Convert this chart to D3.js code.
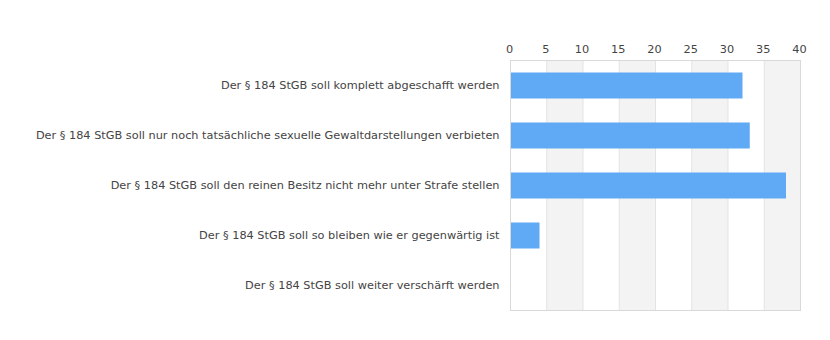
<!DOCTYPE html>
<html><head><meta charset="utf-8">
<script src="https://cdn.jsdelivr.net/npm/d3@7"></script>
<style>body{margin:0;background:#fff}text{font-family:"DejaVu Sans",sans-serif}</style>
</head><body><svg id="c" width="830" height="340"></svg>
<script>
const categories = [
  "Der § 184 StGB soll komplett abgeschafft werden",
  "Der § 184 StGB soll nur noch tatsächliche sexuelle Gewaltdarstellungen verbieten",
  "Der § 184 StGB soll den reinen Besitz nicht mehr unter Strafe stellen",
  "Der § 184 StGB soll so bleiben wie er gegenwärtig ist",
  "Der § 184 StGB soll weiter verschärft werden"
];
const values = [32, 33, 38, 4, 0];
const ticks = [0, 5, 10, 15, 20, 25, 30, 35, 40];

const svg = d3.select("#c");
const m = {l: 510.5, r: 800.5, t: 60.5, b: 310.5};
const x = d3.scaleLinear().domain([0, 40]).range([m.l, m.r]);
const y = d3.scaleBand().domain(categories).range([m.t, m.b]).paddingInner(0.48).paddingOuter(0.24);

// alternating bands
svg.append("g").selectAll("rect").data(d3.pairs(ticks).filter((d, i) => i % 2 === 1))
  .join("rect").attr("x", d => x(d[0])).attr("width", d => x(d[1]) - x(d[0]))
  .attr("y", m.t).attr("height", m.b - m.t).attr("fill", "#f3f3f3");
// gridlines
svg.append("g").selectAll("line").data(ticks).join("line")
  .attr("x1", d => x(d)).attr("x2", d => x(d)).attr("y1", m.t).attr("y2", m.b)
  .attr("stroke", "#e3e3e3").attr("stroke-width", 1);
// border
svg.append("rect").attr("x", m.l).attr("y", m.t).attr("width", m.r - m.l).attr("height", m.b - m.t)
  .attr("fill", "none").attr("stroke", "#d9d9d9");

// bars
svg.append("g").selectAll("rect").data(values).join("rect")
  .attr("x", x(0) + 0.5).attr("y", (d, i) => y(categories[i]))
  .attr("width", d => Math.max(0, x(d) - x(0) - 0.5)).attr("height", y.bandwidth())
  .attr("fill", "#60a9f5");

// top axis
const ax = svg.append("g").attr("transform", `translate(-1.5,${m.t - 8})`)
  .call(d3.axisTop(x).tickValues(ticks).tickSize(0).tickPadding(0));
ax.select(".domain").remove();
ax.selectAll("text").attr("font-size", 11.3).attr("fill", "#444").attr("font-family", "DejaVu Sans, sans-serif");

// category labels
const ay = svg.append("g").attr("transform", `translate(${m.l - 11},0)`)
  .call(d3.axisLeft(y).tickSize(0).tickPadding(0));
ay.select(".domain").remove();
ay.selectAll("text").attr("font-size", 11.3).attr("fill", "#444").attr("font-family", "DejaVu Sans, sans-serif");
</script></body></html>
